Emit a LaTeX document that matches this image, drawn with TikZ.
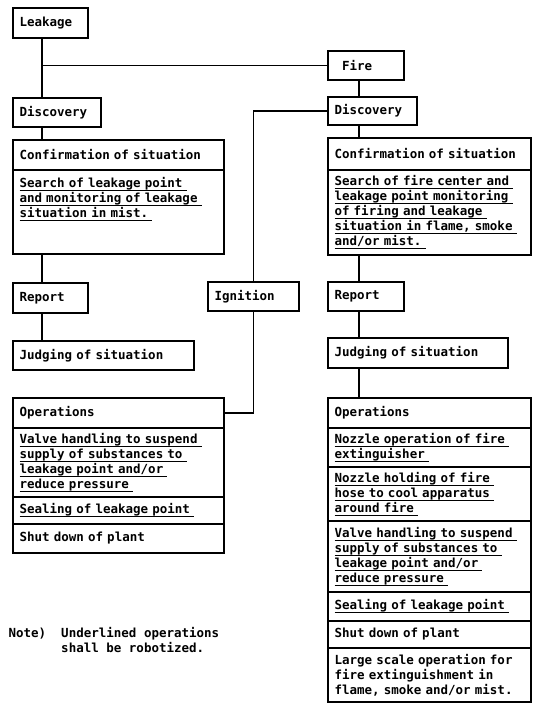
\documentclass[tikz,border=0pt]{standalone}
\usepackage{fontspec}
\usepackage{tikz}
\usetikzlibrary{positioning}
\newfontfamily\dotfont{DejaVu Sans Mono}
\newsavebox{\robotbox}
\newcommand{\robotline}[1]{\leavevmode\sbox{\robotbox}{#1\ }\rlap{\rule[-3.5bp]{\wd\robotbox}{1bp}}\usebox{\robotbox}}

\begin{document}
\begin{tikzpicture}[x=1bp, y=-1bp, line width=1.1bp,
    font=\dotfont\bfseries\fontsize{12.5bp}{15bp}\selectfont]
	\useasboundingbox (0,0) rectangle (537,704);
	\coordinate (lspine) at (42,0);
	\coordinate (rspine) at (359,0);

	\begin{scope}[every node/.style={draw, rectangle, anchor=north west, inner xsep=6.5bp, inner ysep=0pt, outer sep=0pt, align=left}]
		% leakage side
		\node[text width=62bp, minimum height=30bp] (leak) at (13,8) {Leakage};
		\node[text width=75bp, minimum height=29bp] (disL) at (13,98) {Discovery};
		\node[text width=198bp, minimum height=30bp] (confLt) at (13,140) {Confirmation of situation};
		\node[text width=198bp, minimum height=84bp, below=0pt of confLt] (confLb) {\robotline{Search of leakage point}\\\robotline{and monitoring of leakage}\\\robotline{situation in mist.}\\~\\~};
		\node[text width=62bp, minimum height=30bp] (repL) at (13,283) {Report};
		\node[text width=168bp, minimum height=29bp] (judL) at (13,341) {Judging of situation};
		\node[text width=198bp, minimum height=30bp] (opsLt) at (13,398) {Operations};
		\node[text width=198bp, minimum height=69bp, below=0pt of opsLt] (opsL1) {\robotline{Valve handling to suspend}\\\robotline{supply of substances to}\\\robotline{leakage point and/or}\\\robotline{reduce pressure}};
		\node[text width=198bp, minimum height=27bp, below=0pt of opsL1] (opsL2) {\robotline{Sealing of leakage point}};
		\node[text width=198bp, minimum height=29bp, below=0pt of opsL2] (opsL3) {Shut down of plant};

		% ignition
		\node[text width=78bp, minimum height=29bp] (ign) at (208,282) {Ignition};

		% fire side
		\node[text width=48bp, inner xsep=14bp, minimum height=29bp] (fire) at (328,51) {Fire};
		\node[text width=76bp, minimum height=28bp] (disR) at (328,97) {Discovery};
		\node[text width=190bp, minimum height=32bp] (confRt) at (328,138) {Confirmation of situation};
		\node[text width=190bp, minimum height=85bp, below=0pt of confRt] (confRb) {\robotline{Search of fire center and}\\\robotline{leakage point monitoring}\\\robotline{of firing and leakage}\\\robotline{situation in flame, smoke}\\\robotline{and/or mist.}};
		\node[text width=63bp, minimum height=29bp] (repR) at (328,282) {Report};
		\node[text width=167bp, minimum height=30bp] (judR) at (328,338) {Judging of situation};
		\node[text width=190bp, minimum height=30bp] (opsRt) at (328,398) {Operations};
		\node[text width=190bp, minimum height=39bp, below=0pt of opsRt] (opsR1) {\robotline{Nozzle operation of fire}\\\robotline{extinguisher}};
		\node[text width=190bp, minimum height=54bp, below=0pt of opsR1] (opsR2) {\robotline{Nozzle holding of fire}\\\robotline{hose to cool apparatus}\\\robotline{around fire}};
		\node[text width=190bp, minimum height=71bp, below=0pt of opsR2] (opsR3) {\robotline{Valve handling to suspend}\\\robotline{supply of substances to}\\\robotline{leakage point and/or}\\\robotline{reduce pressure}};
		\node[text width=190bp, minimum height=29bp, below=0pt of opsR3] (opsR4) {\robotline{Sealing of leakage point}};
		\node[text width=190bp, minimum height=27bp, below=0pt of opsR4] (opsR5) {Shut down of plant};
		\node[text width=190bp, minimum height=54bp, below=0pt of opsR5] (opsR6) {Large scale operation for\\fire extinguishment in\\flame, smoke and/or mist.};
	\end{scope}

	\node[anchor=north west, align=left, inner sep=0pt] (note) at (8,627) {Note)\ \ Underlined operations\\\phantom{Note)}\ \ shall be robotized.};

	\begin{scope}[every edge/.style={draw=black}]
		\path (leak.south -| lspine) edge (disL.north -| lspine);
		\path (fire.west) edge (fire.west -| lspine);
		\path (disL.south -| lspine) edge (confLt.north -| lspine);
		\path (confLb.south -| lspine) edge (repL.north -| lspine);
		\path (repL.south -| lspine) edge (judL.north -| lspine);
		\path (fire.south -| rspine) edge (disR.north -| rspine);
		\path (disR.south -| rspine) edge (confRt.north -| rspine);
		\path (confRb.south -| rspine) edge (repR.north -| rspine);
		\path (repR.south -| rspine) edge (judR.north -| rspine);
		\path (judR.south -| rspine) edge (opsRt.north -| rspine);
		\draw (ign.north) |- (disR.west);
		\draw (ign.south) |- (opsLt.east);
	\end{scope}
\end{tikzpicture}
\end{document}
